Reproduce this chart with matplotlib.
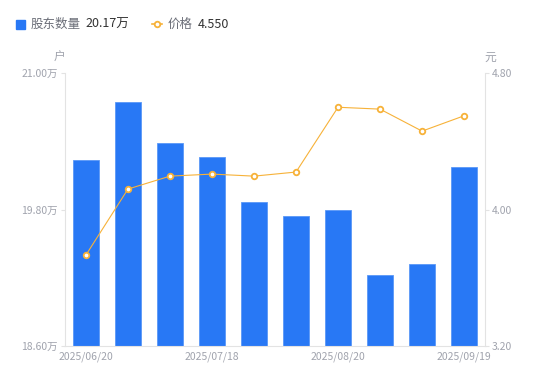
import matplotlib
matplotlib.use("Agg")
import matplotlib.pyplot as plt
from matplotlib.lines import Line2D

plt.rcParams['font.family'] = ['Noto Sans CJK SC', 'DejaVu Sans']

dates = ["2025/06/20", "2025/06/30", "2025/07/10", "2025/07/18", "2025/07/31",
         "2025/08/10", "2025/08/20", "2025/08/31", "2025/09/10", "2025/09/19"]
holders = [20.24, 20.75, 20.385, 20.26, 19.866, 19.743, 19.796, 19.224, 19.321, 20.17]
price = [3.733, 4.12, 4.196, 4.208, 4.196, 4.22, 4.60, 4.589, 4.46, 4.55]
left_ticks = [18.60, 19.80, 21.00]
right_ticks = [3.20, 4.00, 4.80]
shown_dates = [0, 3, 6, 9]

blue = "#2878f5"
orange = "#f7b239"
grey = "#a0a3ad"
axis_c = "#e3e3e3"

fig = plt.figure(figsize=(5.5, 3.81), dpi=100)
ax = fig.add_axes([0.118, 0.092, 0.764, 0.716])
ax2 = ax.twinx()

x = list(range(len(dates)))
ax.bar(x, holders, width=0.6, color=blue, edgecolor="#5a98f7", linewidth=0.6, zorder=2)
ax.set_ylim(left_ticks[0], left_ticks[-1])
ax.set_xlim(-0.5, len(dates) - 0.5)
ax.set_yticks(left_ticks)
ax.set_yticklabels([f"{v:.2f}万" for v in left_ticks])
ax.set_xticks(shown_dates)
ax.set_xticklabels([dates[i] for i in shown_dates])

ax2.plot(x, price, color=orange, linewidth=0.8, marker="o", markersize=4,
         markerfacecolor="white", markeredgecolor=orange, markeredgewidth=1.3, zorder=3)
ax2.set_ylim(right_ticks[0], right_ticks[-1])
ax2.set_yticks(right_ticks)
ax2.set_yticklabels([f"{v:.2f}" for v in right_ticks])

for a in (ax, ax2):
    for s in a.spines.values():
        s.set_visible(False)
for s in (ax.spines['left'], ax.spines['bottom'], ax2.spines['right']):
    s.set_visible(True)
    s.set_color(axis_c)
    s.set_linewidth(0.8)

ax.tick_params(axis='y', colors=axis_c, labelcolor=grey, labelsize=7.5, length=3, width=0.8, pad=2)
ax.tick_params(axis='x', length=0, labelcolor=grey, labelsize=7.5, pad=4)
ax2.tick_params(axis='y', colors=axis_c, labelcolor=grey, labelsize=7.5, length=3, width=0.8, pad=2)

fig.text(59 / 550, 1 - 57 / 381, "户", color=grey, fontsize=8.5, ha='center', va='center')
fig.text(490 / 550, 1 - 57 / 381, "元", color=grey, fontsize=8.5, ha='center', va='center')

# legend row
fig.patches.append(plt.Rectangle((16 / 550, 1 - 29 / 381), 9 / 550, 9 / 381,
                                  transform=fig.transFigure, color=blue, figure=fig))
fig.text(31 / 550, 1 - 24 / 381, "股东数量", color="#6b6e78", fontsize=9, va='center')
fig.text(85 / 550, 1 - 24 / 381, "20.17万", color="#333333", fontsize=9, va='center')
fig.lines.append(Line2D([152 / 550, 162 / 550], [1 - 24 / 381, 1 - 24 / 381],
                        transform=fig.transFigure, color=orange, linewidth=1.2, figure=fig))
fig.lines.append(Line2D([157 / 550], [1 - 24 / 381], transform=fig.transFigure,
                        marker="o", markersize=4, markerfacecolor="white",
                        markeredgecolor=orange, markeredgewidth=1.3, linestyle='none', figure=fig))
fig.text(168 / 550, 1 - 24 / 381, "价格", color="#6b6e78", fontsize=9, va='center')
fig.text(198 / 550, 1 - 24 / 381, "4.550", color="#333333", fontsize=9, va='center')

fig.savefig("out.png", dpi=100)
